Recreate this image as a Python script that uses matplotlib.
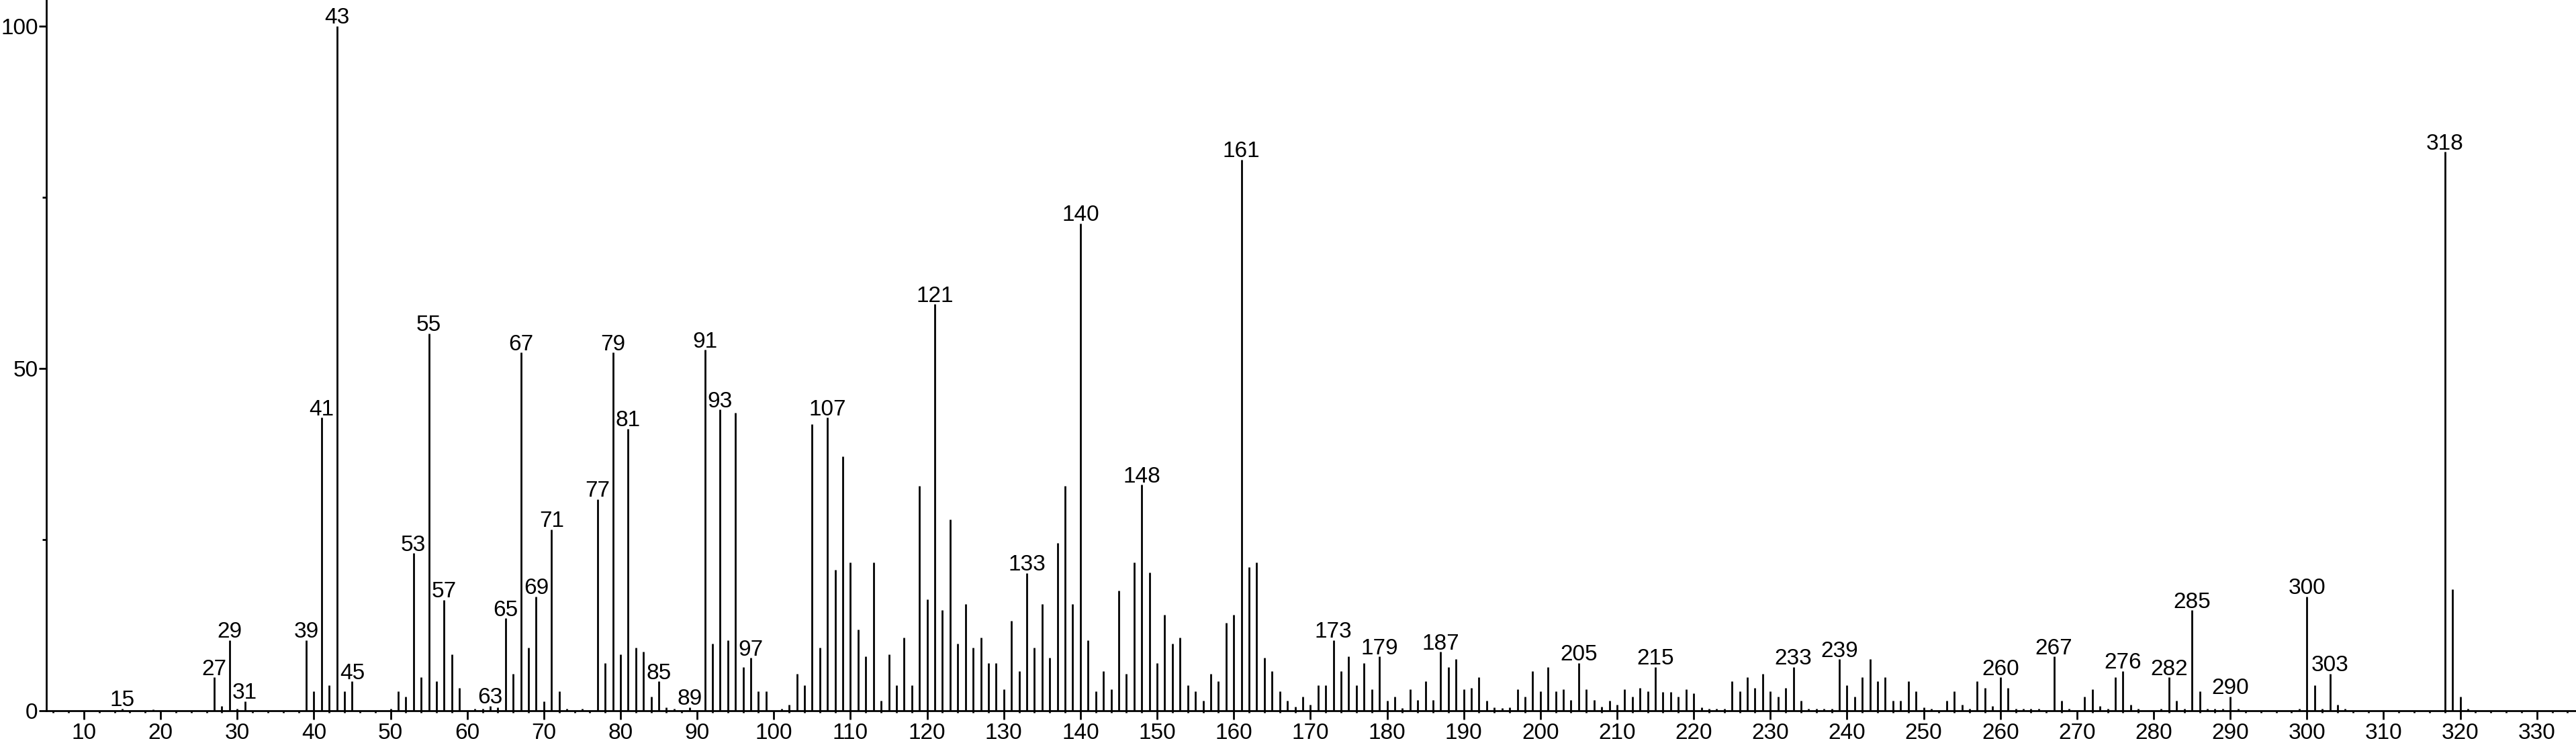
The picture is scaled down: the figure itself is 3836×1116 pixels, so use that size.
import matplotlib
matplotlib.use("Agg")
import matplotlib.pyplot as plt
from matplotlib.ticker import MultipleLocator

plt.rcParams['font.family'] = ['Liberation Sans', 'DejaVu Sans']

# m/z and relative intensity (%)
mz = [15, 19, 27, 28, 29, 30, 31, 39, 40, 41, 42, 43, 44, 45, 50, 51, 52, 53, 54, 55,
      56, 57, 58, 59, 61, 62, 63, 64, 65, 66, 67, 68, 69, 70, 71, 72, 73, 75, 77, 78,
      79, 80, 81, 82, 83, 84, 85, 86, 87, 89, 91, 92, 93, 94, 95, 96, 97, 98, 99, 101,
      102, 103, 104, 105, 106, 107, 108, 109, 110, 111, 112, 113, 114, 115, 116, 117, 118, 119, 120, 121,
      122, 123, 124, 125, 126, 127, 128, 129, 130, 131, 132, 133, 134, 135, 136, 137, 138, 139, 140, 141,
      142, 143, 144, 145, 146, 147, 148, 149, 150, 151, 152, 153, 154, 155, 156, 157, 158, 159, 160, 161,
      162, 163, 164, 165, 166, 167, 168, 169, 170, 171, 172, 173, 174, 175, 176, 177, 178, 179, 180, 181,
      182, 183, 184, 185, 186, 187, 188, 189, 190, 191, 192, 193, 194, 195, 196, 197, 198, 199, 200, 201,
      202, 203, 204, 205, 206, 207, 208, 209, 210, 211, 212, 213, 214, 215, 216, 217, 218, 219, 220, 221,
      222, 223, 224, 225, 226, 227, 228, 229, 230, 231, 232, 233, 234, 235, 236, 237, 238, 239, 240, 241,
      242, 243, 244, 245, 246, 247, 248, 249, 250, 251, 253, 254, 255, 256, 257, 258, 259, 260, 261, 262,
      263, 264, 265, 267, 268, 269, 271, 272, 273, 274, 275, 276, 277, 278, 281, 282, 283, 284, 285, 286,
      287, 288, 289, 290, 291, 299, 300, 301, 302, 303, 304, 305, 318, 319, 320, 321]
intensity = [0.3, 0.2, 4.9, 0.7, 10.3, 0.3, 1.4, 10.3, 2.8, 42.8, 3.7, 100, 2.8, 4.3, 0.3, 2.8, 2.1, 23.0, 4.9, 55.1,
             4.3, 16.2, 8.2, 3.3, 0.3, 0.3, 0.7, 0.5, 13.5, 5.4, 52.3, 9.2, 16.7, 1.4, 26.5, 2.8, 0.3, 0.3, 30.9, 7.0,
             52.3, 8.2, 41.2, 9.2, 8.6, 2.1, 4.3, 0.5, 0.3, 0.5, 52.7, 9.8, 44.0, 10.3, 43.5, 6.4, 7.7, 2.8, 2.8, 0.3,
             0.9, 5.4, 3.7, 41.9, 9.2, 42.8, 20.6, 37.1, 21.7, 11.9, 7.9, 21.7, 1.5, 8.2, 3.7, 10.7, 3.7, 32.8, 16.3, 59.4,
             14.7, 27.9, 9.8, 15.6, 9.2, 10.7, 7.0, 7.0, 3.1, 13.1, 5.8, 20.1, 9.2, 15.6, 7.7, 24.5, 32.8, 15.6, 71.2, 10.3,
             2.8, 5.8, 3.1, 17.5, 5.4, 21.7, 33.0, 20.2, 7.0, 14.0, 9.8, 10.7, 3.7, 2.8, 1.5, 5.4, 4.3, 12.8, 14.0, 80.5,
             21.0, 21.7, 7.7, 5.8, 2.8, 1.5, 0.6, 2.1, 0.9, 3.7, 3.7, 10.3, 5.8, 7.9, 3.7, 7.0, 3.1, 7.9, 1.5, 2.1,
             0.4, 3.1, 1.6, 4.3, 1.6, 8.6, 6.4, 7.5, 3.1, 3.3, 4.9, 1.5, 0.5, 0.4, 0.5, 3.1, 2.1, 5.8, 2.8, 6.4,
             2.8, 3.1, 1.6, 7.0, 3.1, 1.6, 0.6, 1.5, 0.9, 3.1, 2.1, 3.3, 2.8, 6.4, 2.7, 2.7, 2.1, 3.1, 2.5, 0.5,
             0.3, 0.3, 0.3, 4.3, 2.8, 4.9, 3.3, 5.4, 2.8, 2.1, 3.3, 6.4, 1.5, 0.3, 0.3, 0.3, 0.3, 7.5, 3.7, 2.1,
             4.9, 7.5, 4.3, 4.9, 1.5, 1.5, 4.3, 2.8, 0.5, 0.3, 1.5, 2.8, 0.9, 0.3, 4.3, 3.3, 0.7, 4.9, 3.3, 0.3,
             0.3, 0.3, 0.3, 7.9, 1.5, 0.3, 2.1, 3.1, 0.7, 0.3, 4.9, 5.8, 0.9, 0.3, 0.3, 4.9, 1.5, 0.3, 14.7, 2.8,
             0.3, 0.3, 0.3, 2.1, 0.3, 0.3, 16.7, 3.7, 0.3, 5.4, 0.9, 0.3, 81.6, 17.7, 2.1, 0.3]

# peaks that carry a label
labelled = [15, 27, 29, 31, 39, 41, 43, 45, 53, 55, 57, 63, 65, 67, 69, 71, 77, 79, 81, 85,
            89, 91, 93, 97, 107, 121, 133, 140, 148, 161, 173, 179, 187, 205, 215, 233, 239,
            260, 267, 276, 282, 285, 290, 300, 303, 318]

W, H = 3836, 1116
fig = plt.figure(figsize=(W / 100, H / 100), dpi=100)
ax = fig.add_axes([69 / W, (H - 1059) / H, 1 - 69 / W, 1059 / H])

ax.vlines(mz, 0, intensity, colors='black', linewidth=2.0)

peak = dict(zip(mz, intensity))
for m in labelled:
    ax.annotate(str(m), (m, peak[m]), xytext=(0, 2.5), textcoords='offset points',
                ha='center', va='baseline', fontsize=24, color='black')

ax.set_xlim(5.1, 335.1)
ax.set_ylim(0, 103.8)

ax.spines['top'].set_visible(False)
ax.spines['right'].set_visible(False)
ax.spines['left'].set_linewidth(2.0)
ax.spines['bottom'].set_linewidth(2.0)

ax.xaxis.set_major_locator(MultipleLocator(10))
ax.xaxis.set_minor_locator(MultipleLocator(2))
ax.yaxis.set_major_locator(MultipleLocator(50))
ax.yaxis.set_minor_locator(MultipleLocator(25))

ax.tick_params(axis='x', which='major', direction='out', length=9, width=2, labelsize=24, pad=4)
ax.tick_params(axis='x', which='minor', direction='out', length=2.5, width=2)
ax.tick_params(axis='y', which='major', direction='out', length=8, width=2, labelsize=24, pad=1)
ax.tick_params(axis='y', which='minor', direction='out', length=4.5, width=2)

fig.savefig('out.png', dpi=100)
